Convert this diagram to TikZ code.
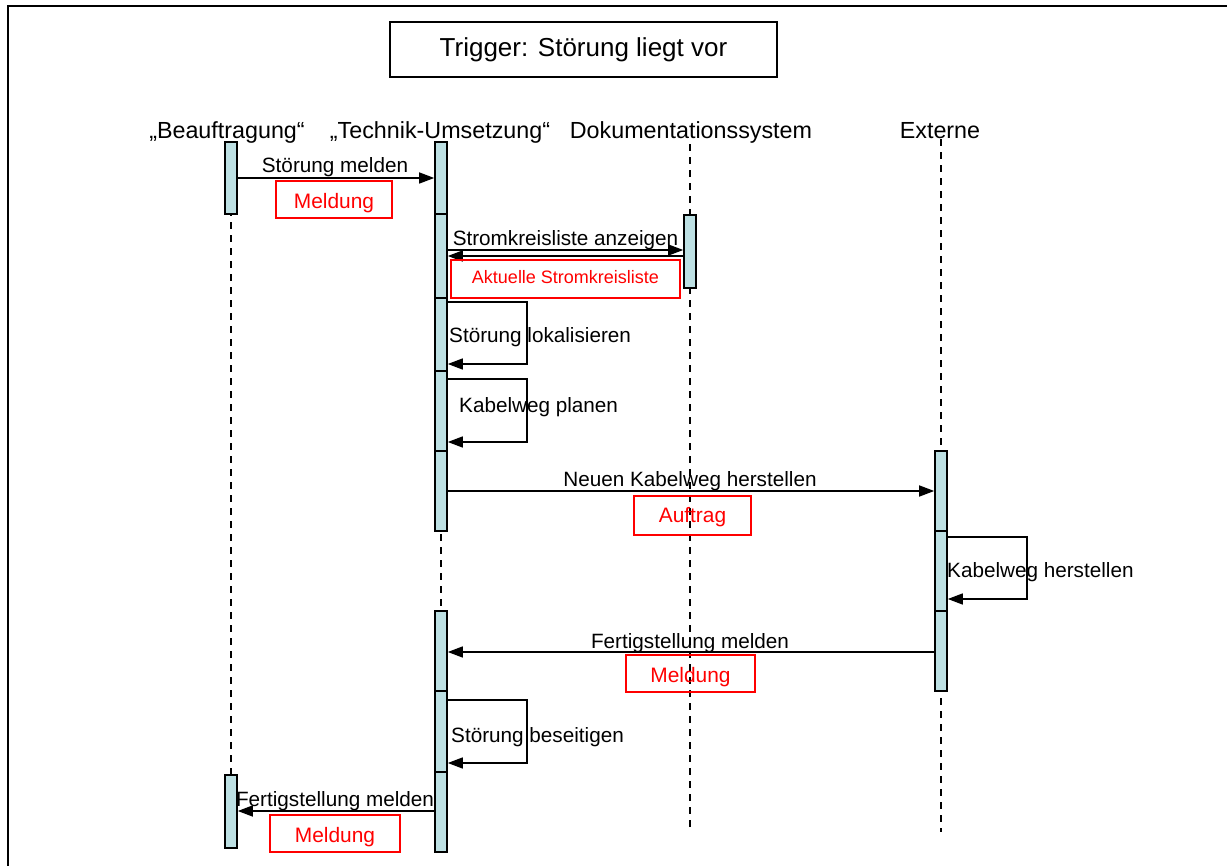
\documentclass[tikz,border=0pt]{standalone}
\usepackage{fontspec}
\setmainfont{Liberation Sans}
\usetikzlibrary{arrows.meta,backgrounds}
\definecolor{barfill}{RGB}{189,224,227}
\definecolor{msgred}{RGB}{255,0,0}
\begin{document}
\begin{tikzpicture}[x=1pt,y=-1pt,
  lane/.style={font=\fontsize{23.3}{26}\selectfont, inner sep=0pt, anchor=base},
  bar/.style={draw, line width=1.6pt, fill=barfill, minimum width=12pt, inner sep=0pt},
  lifeline/.style={line width=1.4pt, dash pattern=on 6.5pt off 6.5pt},
  msg/.style={line width=1.5pt, -{Triangle[length=15pt,width=11pt]}},
  msglabel/.style={font=\fontsize{20.7}{23}\selectfont, inner sep=0pt, anchor=base},
  token/.style={draw=msgred, text=msgred, line width=1.7pt, inner sep=0pt,
                font=\fontsize{20.9}{23}\selectfont, text depth=0pt},
]
\useasboundingbox (0,0) rectangle (1227,866);

% outer frame
\draw[line width=2pt] (8,866) -- (8,6) -- (1227,6);

% trigger
\node[draw, line width=1.6pt, minimum width=387pt, minimum height=55pt, inner sep=0pt,
      font=\fontsize{26}{30}\selectfont] (trigger) at (583.5,49.5) {Trigger: Störung liegt vor};

% participants
\node[lane] (hB) at (227,139) {„Beauftragung“};
\node[lane] (hT) at (440,139) {„Technik-Umsetzung“};
\node[lane] (hD) at (691,139) {Dokumentationssystem};
\node[lane] (hE) at (940,139) {Externe};

% activation bars
\node[bar, minimum height=72pt] (b1) at (231,178) {};
\node[bar, minimum height=73pt] (b2) at (231,811.5) {};

\node[bar, minimum height=72pt] (t1) at (441,178) {};
\node[bar, minimum height=84pt] (t2) at (441,256) {};
\node[bar, minimum height=73pt] (t3) at (441,334.5) {};
\node[bar, minimum height=80pt] (t4) at (441,411) {};
\node[bar, minimum height=80pt] (t5) at (441,491) {};
\node[bar, minimum height=80pt] (t6) at (441,651) {};
\node[bar, minimum height=81pt] (t7) at (441,731.5) {};
\node[bar, minimum height=80pt] (t8) at (441,812) {};

\node[bar, minimum height=73pt] (d1) at (690,251.5) {};

\node[bar, minimum height=80pt] (e1) at (941,491) {};
\node[bar, minimum height=80pt] (e2) at (941,571) {};
\node[bar, minimum height=80pt] (e3) at (941,651) {};

\coordinate (dEnd) at (690,832);
\coordinate (eEnd) at (941,832);

% lifelines
\begin{scope}[on background layer]
  \draw[lifeline] (hB.south -| b1.center) -- (b2.north);
  \draw[lifeline] (hT.south -| t1.center) -- (t8.south);
  \draw[lifeline] (hD.south -| d1.center) -- (dEnd);
  \draw[lifeline] (hE.south -| e1.center) -- (eEnd);
\end{scope}

% Störung melden
\draw[msg] (b1.east |- 0,178) -- (t1.west |- 0,178);
\node[msglabel] (l1) at (335,173) {Störung melden};
\node[token, minimum width=116pt, minimum height=37pt, text height=18pt] (k1) at (334,199.5) {Meldung};

% Stromkreisliste
\draw[msg] (t2.east |- 0,250) -- (d1.west |- 0,250);
\draw[msg] (d1.west |- 0,256) -- (t2.east |- 0,256);
\node[msglabel] (l2) at (565.5,246) {Stromkreisliste anzeigen};
\node[token, minimum width=229pt, minimum height=38pt, text height=9pt,
      font=\fontsize{18}{20}\selectfont]
  (k2) at (565.5,279) {Aktuelle Stromkreisliste};

% Störung lokalisieren
\draw[msg] (t3.east |- 0,302) -- ++(79,0) |- (t3.east |- 0,364);
\node[msglabel, anchor=base west] (l3) at (449,343) {Störung lokalisieren};

% Kabelweg planen
\draw[msg] (t4.east |- 0,379) -- ++(79,0) |- (t4.east |- 0,442);
\node[msglabel, anchor=base west] (l4) at (459,413) {Kabelweg planen};

% Neuen Kabelweg herstellen
\draw[msg] (t5.east |- 0,491) -- (e1.west |- 0,491);
\node[msglabel] (l5) at (690,487) {Neuen Kabelweg herstellen};
\node[token, minimum width=117pt, minimum height=39pt, text height=13pt] (k5) at (692.5,515.5) {Auftrag};

% Kabelweg herstellen
\draw[msg] (e2.east |- 0,537) -- ++(79,0) |- (e2.east |- 0,599);
\node[msglabel, anchor=base west] (l6) at (947,577) {Kabelweg herstellen};

% Fertigstellung melden (Externe)
\draw[msg] (e3.west |- 0,652) -- (t6.east |- 0,652);
\node[msglabel] (l7) at (690,648) {Fertigstellung melden};
\node[token, minimum width=129pt, minimum height=37pt, text height=17pt] (k7) at (690.5,673.5) {Meldung};

% Störung beseitigen
\draw[msg] (t7.east |- 0,700) -- ++(79,0) |- (t7.east |- 0,763);
\node[msglabel, anchor=base west] (l8) at (451,742) {Störung beseitigen};

% Fertigstellung melden (Beauftragung)
\draw[msg] (t8.west |- 0,811) -- (b2.east |- 0,811);
\node[msglabel] (l9) at (335,806) {Fertigstellung melden};
\node[token, minimum width=130pt, minimum height=37pt, text height=17pt] (k9) at (335,833.5) {Meldung};
\end{tikzpicture}
\end{document}
